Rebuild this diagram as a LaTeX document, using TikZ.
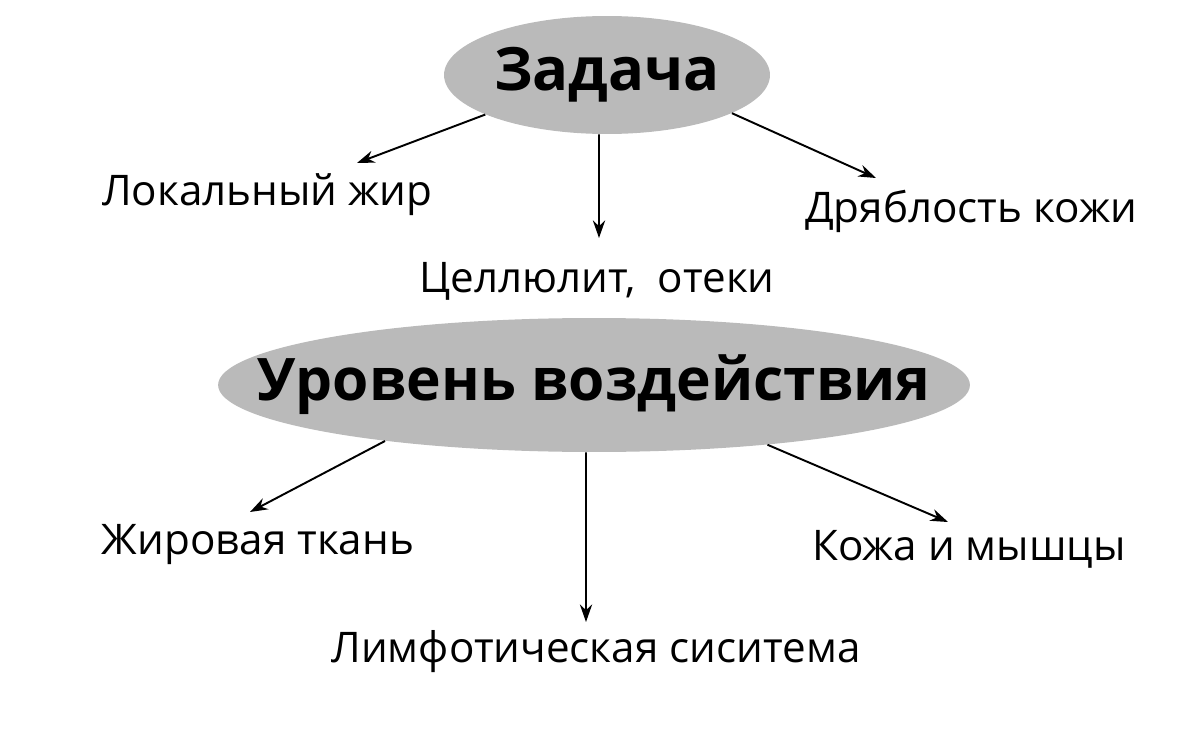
\documentclass[tikz,border=0pt]{standalone}
\usepackage{fontspec}
\setmainfont{Open Sans}
\usetikzlibrary{arrows.meta,shapes.geometric}
\tikzset{
  topic/.style={ellipse,fill=black!27,inner sep=0pt},
  item/.style={inner sep=0pt,font=\fontsize{24}{28}\selectfont},
  link/.style={line width=1.1pt,-{Stealth[length=10pt,width=7pt]}}
}
\begin{document}
\begin{tikzpicture}[x=0.02cm,y=-0.02cm]
\useasboundingbox (0,0) rectangle (1200,750);
\node[topic,minimum width=6.52cm,minimum height=2.36cm,label={[font=\bfseries\fontsize{34}{38}\selectfont]center:Задача}](task) at (607,75){};
\node[topic,minimum width=15.04cm,minimum height=2.68cm,label={[font=\bfseries\fontsize{33.4}{37}\selectfont]center:Уровень воздействия}](level) at (594,385){};
\node[item](fat) at (267,195){Локальный жир};
\node[item](cell) at (597,281){Целлюлит,\ \ отеки};
\node[item](skin) at (971,211){Дряблость кожи};
\node[item](tissue) at (258,545){Жировая ткань};
\node[item](muscle) at (969,549){Кожа и мышцы};
\node[item](lymph) at (596,652){Лимфотическая сиситема};
\coordinate(a1) at (357,163);
\coordinate(a2) at (599,238);
\coordinate(a3) at (876,178);
\coordinate(b1) at (250,512);
\coordinate(b2) at (586,622);
\coordinate(b3) at (948,522);
\draw[link](task.198)--(a1);
\draw[link]([xshift=-0.16cm]task.south)--(a2);
\draw[link](task.343)--(a3);
\draw[link](level.195)--(b1);
\draw[link]([xshift=-0.16cm]level.south)--(b2);
\draw[link](level.341)--(b3);
\end{tikzpicture}
\end{document}
